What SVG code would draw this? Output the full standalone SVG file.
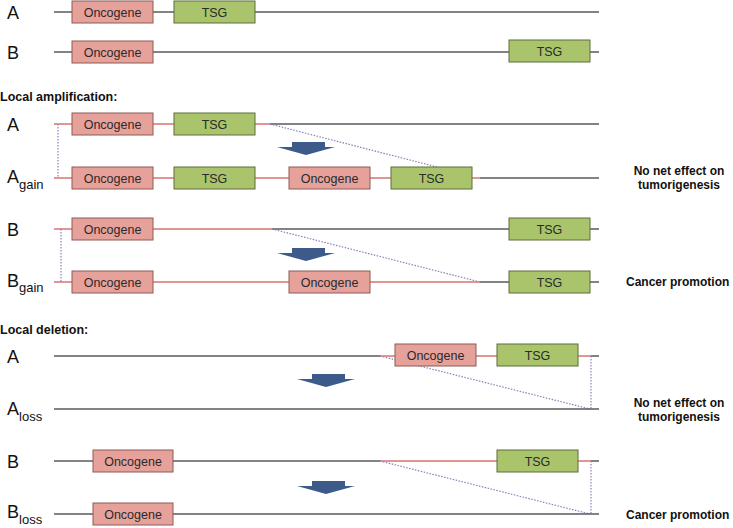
<svg xmlns="http://www.w3.org/2000/svg" width="733" height="528" viewBox="0 0 733 528">
<defs>
<style>
.g{stroke:#5a5a5a;stroke-width:1.5;fill:none}
.r{stroke:#d9736c;stroke-width:1.5;fill:none}
.d{stroke:#8a7fb8;stroke-width:1.2;stroke-dasharray:1.5 1.5;fill:none}
.onc{fill:#e6a19b;stroke:#8d5a55;stroke-width:1}
.tsg{fill:#a9c46b;stroke:#5f6d3c;stroke-width:1}
.bt{font-family:"Liberation Sans",Arial,sans-serif;font-size:12.5px;fill:#2a2a2a;text-anchor:middle}
.lab{font-family:"Liberation Sans",Arial,sans-serif;font-size:18px;fill:#111}
.sub{font-size:13px}
.hd{font-family:"Liberation Sans",Arial,sans-serif;font-size:12.5px;font-weight:bold;fill:#111}
.res{font-family:"Liberation Sans",Arial,sans-serif;font-size:12px;font-weight:bold;fill:#111}
.arr{fill:#3c5b8b}
</style>
<symbol id="arrow" overflow="visible"><path class="arr" d="M15,0 H48 V5 H58 L29,13 L0,5 H15 Z"/></symbol>
</defs>
<rect width="733" height="528" fill="#fff"/>

<g id="connectors">
<line class="g" x1="54" y1="12" x2="599" y2="12"/>
<line class="g" x1="54" y1="52" x2="599" y2="52"/>
<line class="r" x1="54" y1="124" x2="270" y2="124"/>
<line class="g" x1="270" y1="124" x2="599" y2="124"/>
<line class="d" x1="58" y1="124" x2="58" y2="178"/>
<line class="d" x1="270" y1="124" x2="437" y2="167"/>
<line class="r" x1="54" y1="178" x2="480" y2="178"/>
<line class="g" x1="480" y1="178" x2="599" y2="178"/>
<line class="r" x1="54" y1="229" x2="272" y2="229"/>
<line class="g" x1="272" y1="229" x2="599" y2="229"/>
<line class="d" x1="61" y1="229" x2="61" y2="282"/>
<line class="d" x1="272" y1="229" x2="480" y2="282"/>
<line class="r" x1="54" y1="282" x2="480" y2="282"/>
<line class="g" x1="480" y1="282" x2="599" y2="282"/>
<line class="g" x1="54" y1="356" x2="380" y2="356"/>
<line class="r" x1="380" y1="356" x2="591" y2="356"/>
<line class="g" x1="591" y1="356" x2="599" y2="356"/>
<line class="d" x1="380" y1="356" x2="590" y2="409"/>
<line class="d" x1="591" y1="356" x2="591" y2="409"/>
<line class="g" x1="54" y1="409" x2="599" y2="409"/>
<line class="g" x1="54" y1="461" x2="380" y2="461"/>
<line class="r" x1="380" y1="461" x2="591" y2="461"/>
<line class="g" x1="591" y1="461" x2="599" y2="461"/>
<line class="d" x1="380" y1="461" x2="590" y2="514"/>
<line class="d" x1="591" y1="461" x2="591" y2="514"/>
<line class="g" x1="54" y1="514" x2="599" y2="514"/>
<use href="#arrow" x="277" y="142"/>
<use href="#arrow" x="277" y="248"/>
<use href="#arrow" x="297" y="374"/>
<use href="#arrow" x="297" y="481"/>
</g>

<g id="labels">
<text class="lab" x="7" y="19">A</text>
<text class="lab" x="7" y="59">B</text>
<text class="hd" x="0" y="101">Local amplification:</text>
<text class="lab" x="7" y="131">A</text>
<text class="lab" x="7" y="183">A<tspan class="sub" dy="6">gain</tspan></text>
<text class="lab" x="7" y="236">B</text>
<text class="lab" x="7" y="287">B<tspan class="sub" dy="5">gain</tspan></text>
<text class="hd" x="0" y="334">Local deletion:</text>
<text class="lab" x="7" y="363">A</text>
<text class="lab" x="7" y="415">A<tspan class="sub" dy="6">loss</tspan></text>
<text class="lab" x="7" y="468">B</text>
<text class="lab" x="7" y="518">B<tspan class="sub" dy="6">loss</tspan></text>
<text class="res" x="679" y="175" text-anchor="middle">No net effect on</text>
<text class="res" x="679" y="189" text-anchor="middle">tumorigenesis</text>
<text class="res" x="626" y="286">Cancer promotion</text>
<text class="res" x="679" y="407" text-anchor="middle">No net effect on</text>
<text class="res" x="679" y="421" text-anchor="middle">tumorigenesis</text>
<text class="res" x="626" y="519">Cancer promotion</text>
</g>

<g id="r1-onc"><rect class="onc" x="72" y="1" width="81" height="22"/><text class="bt" x="112.5" y="16.5">Oncogene</text></g>
<g id="r1-tsg"><rect class="tsg" x="174" y="1" width="81" height="22"/><text class="bt" x="214.5" y="16.5">TSG</text></g>
<g id="r2-onc"><rect class="onc" x="72" y="41" width="81" height="22"/><text class="bt" x="112.5" y="56.5">Oncogene</text></g>
<g id="r2-tsg"><rect class="tsg" x="509" y="40" width="81" height="22"/><text class="bt" x="549.5" y="55.5">TSG</text></g>

<g id="amA-onc"><rect class="onc" x="72" y="113" width="81" height="22"/><text class="bt" x="112.5" y="128.5">Oncogene</text></g>
<g id="amA-tsg"><rect class="tsg" x="174" y="113" width="81" height="22"/><text class="bt" x="214.5" y="128.5">TSG</text></g>
<g id="amAg-onc"><rect class="onc" x="72" y="167" width="81" height="22"/><text class="bt" x="112.5" y="182.5">Oncogene</text></g>
<g id="amAg-tsg"><rect class="tsg" x="174" y="167" width="81" height="22"/><text class="bt" x="214.5" y="182.5">TSG</text></g>
<g id="amAg-onc2"><rect class="onc" x="289" y="167" width="81" height="22"/><text class="bt" x="329.5" y="182.5">Oncogene</text></g>
<g id="amAg-tsg2"><rect class="tsg" x="391" y="167" width="81" height="22"/><text class="bt" x="431.5" y="182.5">TSG</text></g>

<g id="amB-onc"><rect class="onc" x="72" y="218" width="81" height="22"/><text class="bt" x="112.5" y="233.5">Oncogene</text></g>
<g id="amB-tsg"><rect class="tsg" x="509" y="218" width="81" height="22"/><text class="bt" x="549.5" y="233.5">TSG</text></g>
<g id="amBg-onc"><rect class="onc" x="72" y="271" width="81" height="22"/><text class="bt" x="112.5" y="286.5">Oncogene</text></g>
<g id="amBg-onc2"><rect class="onc" x="289" y="271" width="81" height="22"/><text class="bt" x="329.5" y="286.5">Oncogene</text></g>
<g id="amBg-tsg"><rect class="tsg" x="509" y="271" width="81" height="22"/><text class="bt" x="549.5" y="286.5">TSG</text></g>

<g id="deA-onc"><rect class="onc" x="395" y="344" width="81" height="22"/><text class="bt" x="435.5" y="359.5">Oncogene</text></g>
<g id="deA-tsg"><rect class="tsg" x="497" y="344" width="81" height="22"/><text class="bt" x="537.5" y="359.5">TSG</text></g>
<g id="deB-onc"><rect class="onc" x="93" y="450" width="80" height="22"/><text class="bt" x="133" y="465.5">Oncogene</text></g>
<g id="deB-tsg"><rect class="tsg" x="497" y="450" width="81" height="22"/><text class="bt" x="537.5" y="465.5">TSG</text></g>
<g id="deBl-onc"><rect class="onc" x="93" y="503" width="80" height="22"/><text class="bt" x="133" y="518.5">Oncogene</text></g>
</svg>
